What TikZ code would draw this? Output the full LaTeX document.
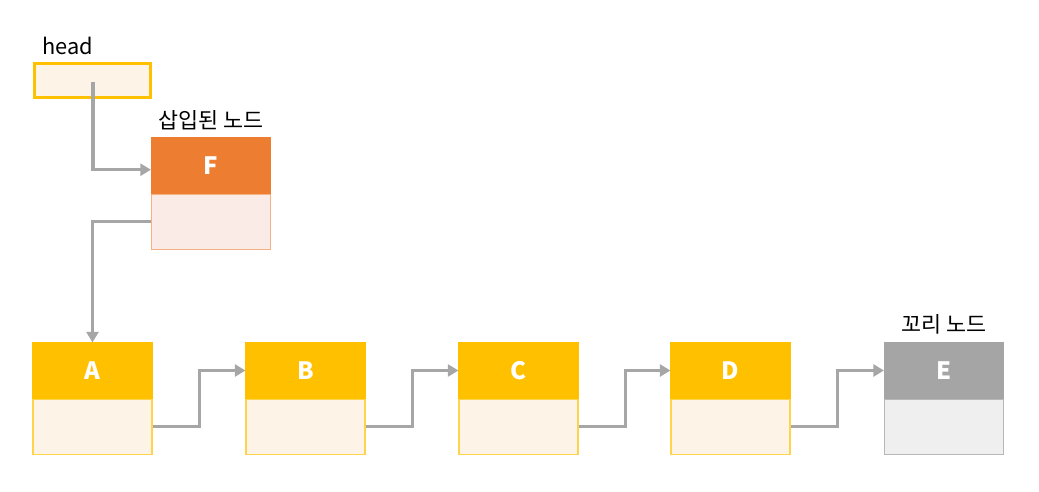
\documentclass[tikz,border=0pt]{standalone}
\usepackage{fontspec}
\setmainfont{Noto Sans CJK KR}
\usepackage{tikz}
\usetikzlibrary{arrows.meta, positioning}
\definecolor{gold}{HTML}{FFC000}
\definecolor{goldfill}{HTML}{FEF3E7}
\definecolor{orng}{HTML}{ED7D31}
\definecolor{orngfill}{HTML}{FBEBE6}
\definecolor{greyhead}{HTML}{A5A5A5}
\definecolor{greyfill}{HTML}{EFEFEF}
\definecolor{link}{HTML}{A6A6A6}

\begin{document}
\begin{tikzpicture}[
    x=0.025cm, y=-0.025cm,
    font=\fontsize{15.5}{18}\selectfont,
    namebox/.style={draw=gold, fill=gold, line width=0.8pt, minimum width=2.975cm,
        minimum height=1.375cm, inner sep=0pt, text=white,
        font=\fontsize{17}{20}\selectfont\bfseries},
    databox/.style={draw=gold!70, fill=goldfill, line width=0.8pt, minimum width=2.975cm,
        minimum height=1.375cm, inner sep=0pt},
    arrow/.style={-{Triangle[length=7.5pt, width=8.5pt]}, line width=2.4pt, draw=link}
]
\useasboundingbox (0,0) rectangle (1039,492);

% head pointer
\node[draw=gold, fill=goldfill, line width=2pt, minimum width=2.9cm, minimum height=0.85cm,
    inner sep=0pt] (head) at (92.5,80.5) {};
\node[anchor=south west, inner sep=0pt] (headlbl) at (42,55) {head};

% inserted node
\node[namebox, draw=orng, fill=orng] (F) at (211,165.5) {F};
\node[databox, draw=orng!60, fill=orngfill, below=0pt of F] (F2) {};
\node[above=2pt of F] (Flbl) {삽입된 노드};

% list nodes
\node[namebox] (A) at (92.5,370.5) {A};
\node[databox, below=0pt of A] (A2) {};
\node[namebox] (B) at (305.5,370.5) {B};
\node[databox, below=0pt of B] (B2) {};
\node[namebox] (C) at (518.5,370.5) {C};
\node[databox, below=0pt of C] (C2) {};
\node[namebox] (D) at (730.5,370.5) {D};
\node[databox, below=0pt of D] (D2) {};
\node[namebox, draw=greyhead, fill=greyhead] (E) at (944,370.5) {E};
\node[databox, draw=greyhead!80, fill=greyfill, below=0pt of E] (E2) {};
\node[above=2pt of E] (Elbl) {꼬리 노드};

% links
\coordinate (hstart) at (93,82);
\draw[arrow] (hstart) |- ([yshift=-3pt]F.west);
\draw[arrow] (F2.west) -| (A.north);
\foreach \from/\to in {A2/B, B2/C, C2/D, D2/E} {
    \draw[arrow] (\from.east) -- ++(47,0) |- (\to.west);
}
\end{tikzpicture}
\end{document}
